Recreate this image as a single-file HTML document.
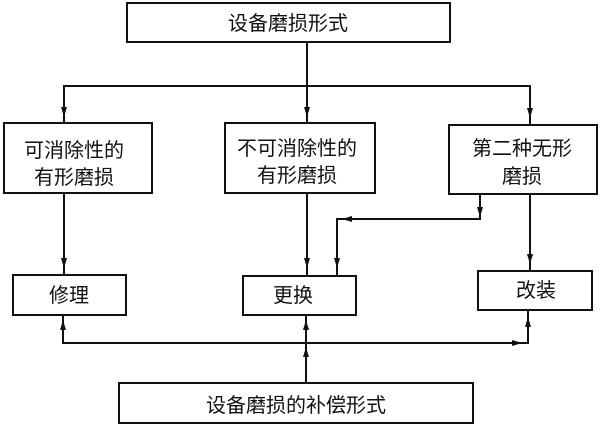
<!DOCTYPE html>
<html><head><meta charset="utf-8"><style>
html,body{margin:0;padding:0;background:#fff;}
svg{display:block;}
text{font-family:"Liberation Sans","Noto Sans CJK SC","WenQuanYi Zen Hei",sans-serif;font-size:20px;fill:#111;}
</style></head><body>
<svg width="600" height="426" viewBox="0 0 600 426" xmlns="http://www.w3.org/2000/svg">
<rect width="600" height="426" fill="#fff"/>
<g fill="none" stroke="#111" stroke-width="2">
  <rect x="127" y="3" width="323" height="39"/>
  <rect x="4" y="123" width="148" height="70"/>
  <rect x="225" y="123" width="150" height="70"/>
  <rect x="449" y="125" width="148" height="69"/>
  <rect x="13" y="275" width="113" height="40"/>
  <rect x="243" y="276" width="113" height="39"/>
  <rect x="478" y="271" width="114" height="39"/>
  <rect x="119" y="383" width="354" height="40"/>
  <polyline points="307,42 307,123"/>
  <polyline points="64,123 64,86 530,86 530,125"/>
  <polyline points="64,193 64,275"/>
  <polyline points="307,193 307,276"/>
  <polyline points="480,194 480,219 337,219 337,276"/>
  <polyline points="530,194 530,271"/>
  <polyline points="63,315 63,343 528,343 528,310"/>
  <polyline points="306,315 306,383"/>
</g>
<g fill="#111">
  <polygon points="61,107 67,107 64,117"/>
  <polygon points="304,107 310,107 307,117"/>
  <polygon points="527,108 533,108 530,118"/>
  <polygon points="61,258 67,258 64,268"/>
  <polygon points="304,258 310,258 307,268"/>
  <polygon points="334,258 340,258 337,268"/>
  <polygon points="477,207 483,207 480,217"/>
  <polygon points="527,254 533,254 530,264"/>
  <polygon points="352,216 352,222 342,219"/>
  <polygon points="60,330 66,330 63,320"/>
  <polygon points="303,330 309,330 306,320"/>
  <polygon points="303,357 309,357 306,347"/>
  <polygon points="525,327 531,327 528,317"/>
  <polygon points="512,340 512,346 522,343"/>
</g>
<g text-anchor="middle">
  <text x="288" y="30">设备磨损形式</text>
  <text x="74" y="157">可消除性的</text>
  <text x="74" y="184">有形磨损</text>
  <text x="297" y="155">不可消除性的</text>
  <text x="297" y="182">有形磨损</text>
  <text x="522" y="155">第二种无形</text>
  <text x="522" y="183">磨损</text>
  <text x="69" y="302">修理</text>
  <text x="293" y="302">更换</text>
  <text x="536" y="297">改装</text>
  <text x="296" y="412">设备磨损的补偿形式</text>
</g>
</svg>
</body></html>
